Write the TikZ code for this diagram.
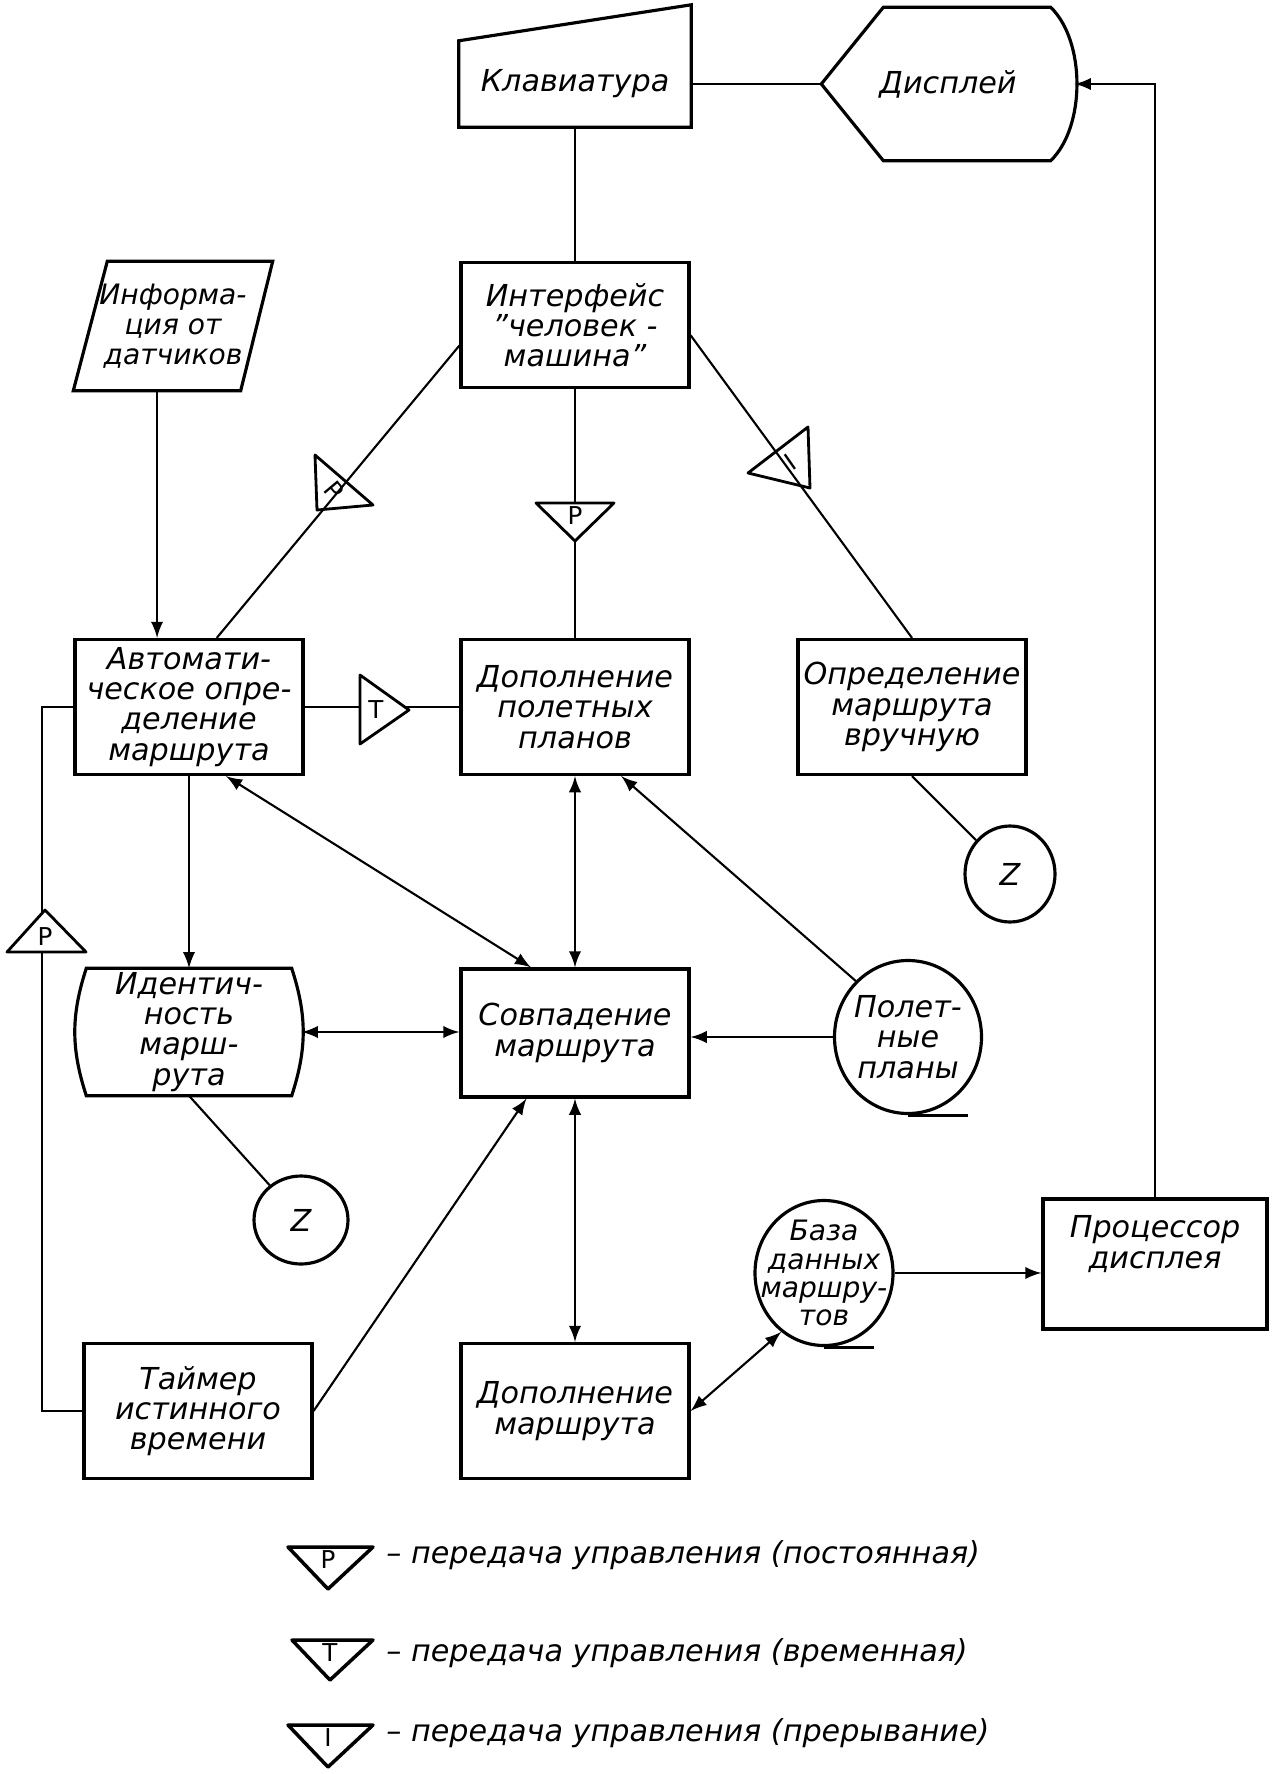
\documentclass[tikz,border=0pt]{standalone}
\usepackage{fontspec}
\setmainfont{DejaVu Sans}[Ligatures=ResetAll]
\usetikzlibrary{calc,shapes.geometric}

\begin{document}
\begin{tikzpicture}[x=0.1mm, y=-0.1mm, >=latex,
    every node/.style={font=\itshape\fontsize{8.6}{8.6}\selectfont, align=center},
    block/.style={draw, line width=0.9pt, minimum width=22.8mm, minimum height=13.5mm, inner sep=1pt},
    plain/.style={minimum width=22.8mm, minimum height=13.5mm, inner sep=1pt},
    store/.style={draw, ellipse, line width=0.9pt, inner sep=0pt},
    link/.style={line width=0.6pt},
    trimark/.style={line width=0.8pt, line join=round},
    letter/.style={font=\fontsize{7}{7}\selectfont, inner sep=0pt}]

        % Fix the page
        \useasboundingbox (0,0) rectangle (1284,1774);

        % Draw keyboard and display
        \node[plain, minimum width=23.1mm, minimum height=8.5mm] (kbd) at (575,84) {Клавиатура};
        \draw[line width=0.9pt] (kbd.south west) -- (kbd.north west) -- ($(kbd.north east)+(0,-36)$) -- (kbd.south east) -- cycle;
        \node[plain, minimum width=25.2mm, minimum height=15.2mm] (disp) at (948,84) {Дисплей};
        \draw[line width=0.9pt] (disp.west) -- ($(disp.north west)+(62,0)$) -- ($(disp.north east)+(-24,0)$)
            .. controls +(35,34) and +(35,-34) .. ($(disp.south east)+(-24,0)$) -- ($(disp.south west)+(62,0)$) -- cycle;

        % Draw the second row
        \node[plain, minimum width=19.8mm, minimum height=12.8mm, font=\itshape\fontsize{8}{8.6}\selectfont] (info) at (173,326) {Информа-\\ция от\\датчиков};
        \draw[line width=0.9pt] (info.south west) -- ($(info.north west)+(34,0)$) -- (info.north east) -- ($(info.south east)+(-32,0)$) -- cycle;
        \coordinate (infoout) at ($(info.south west)!0.42!(info.south east)$);
        \node[block, minimum height=12.5mm] (intf) at (575,325) {Интерфейс\\"человек -\\машина"};

        % Draw the third row
        \node[block] (auto) at (189,707) {Автомати-\\ческое опре-\\деление\\маршрута};
        \node[block] (dop) at (575,707) {Дополнение\\полетных\\планов};
        \node[block] (opr) at (912,707) {Определение\\маршрута\\вручную};
        \node[store, minimum width=9mm, minimum height=9.6mm] (zopr) at (1010,874) {Z};

        % Draw the fourth row
        \node[plain, minimum width=20.4mm, minimum height=12.6mm] (ident) at (189,1032) {Идентич-\\ность\\марш-\\рута};
        \draw[line width=0.9pt] (ident.north west) to[bend right=18] (ident.south west) -- (ident.south east)
            to[bend right=18] (ident.north east) -- cycle;
        \coordinate (identE) at ($(ident.east)+(10,0)$);
        \node[block, minimum height=12.8mm] (sovp) at (575,1033) {Совпадение\\маршрута};
        \node[store, minimum width=14.7mm, minimum height=15.3mm, label=center:{Полет-\\ные\\планы}] (pp) at (908,1037) {};
        \draw[line width=0.9pt] (pp.south) -- ++(60,0);
        \node[store, minimum width=9.4mm, minimum height=8.8mm] (zid) at (301,1220) {Z};

        % Draw the bottom row
        \node[block] (taim) at (198,1411) {Таймер\\истинного\\времени};
        \node[block] (dopm) at (575,1411) {Дополнение\\маршрута};
        \node[store, minimum width=13.8mm, minimum height=14.5mm,
            label={[font=\itshape\fontsize{8}{8}\selectfont]center:{База\\данных\\маршру-\\тов}}] (baza) at (824,1273) {};
        \draw[line width=0.9pt] (baza.south) -- ++(50,0);
        \node[block, minimum width=22.4mm, minimum height=13mm] (proc) at (1155,1264) {Процессор\\дисплея\\[4pt]};

        % Connectors
        \draw[link] (kbd.east) -- (kbd.east -| disp.west);
        \draw[link] (kbd.south) -- (intf.north);
        \draw[link] (intf.south) -- (dop.north);
        \draw[link] ($(intf.north west)!0.66!(intf.south west)$) -- ($(auto.north west)!0.62!(auto.north east)$);
        \draw[link] ($(intf.north east)!0.58!(intf.south east)$) -- (opr.north);
        \draw[link, ->] (infoout) -- (infoout |- auto.north);
        \draw[link] (auto.east) -- (dop.west);
        \draw[link] (auto.west) -- ++(-31,0) |- (taim.west);
        \draw[link] (opr.south) -- (zopr);
        \draw[link, ->] (auto.south) -- (ident.north);
        \draw[link, <->] ($(auto.south west)!0.66!(auto.south east)$) -- ($(sovp.north west)!0.31!(sovp.north east)$);
        \draw[link, <->] (dop.south) -- (sovp.north);
        \draw[link, ->] (pp.133) -- ($(dop.south west)!0.7!(dop.south east)$);
        \draw[link, <->] (identE) -- (identE -| sovp.west);
        \draw[link, ->] (pp.west) -- (pp.west -| sovp.east);
        \draw[link] (ident.south) -- (zid);
        \draw[link, ->] (taim.east) -- ($(sovp.south west)!0.29!(sovp.south east)$);
        \draw[link, <->] (sovp.south) -- (dopm.north);
        \draw[link, <->] (dopm.east) -- (baza.234);
        \draw[link, ->] (baza.east) -- (baza.east -| proc.west);
        \draw[link, ->] (proc.north) |- (disp.east);

        % Control transfer marks on the lines
        \draw[trimark, fill=white] (536,503) -- (614,503) -- (575,541) -- cycle;
        \node[letter] (tpmid) at (575,516) {P};
        \draw[trimark, fill=white] (360,675) -- (409,710) -- (360,744) -- cycle;
        \node[letter] (ttmp) at (376,710) {T};
        \draw[trimark, fill=white] (45,910) -- (86,952) -- (7,952) -- cycle;
        \node[letter] (tpleft) at (45,937) {P};
        \draw[trimark] (315,455) -- (317,510) -- (373,505) -- cycle;
        \node[letter, rotate=-50] (tpdiag) at (334,490) {P};
        \draw[trimark] (808,427) -- (748,473) -- (810,488) -- cycle;
        \node[letter, rotate=35] (tidiag) at (790,462) {I};

        % Legend
        \draw[trimark, line width=1pt] (288,1547) -- (373,1547) -- (328,1589) -- cycle;
        \node[letter] (legp) at (328,1560) {P};
        \node[anchor=west] (legtxtp) at (374,1555) {– передача управления (постоянная)};
        \draw[trimark, line width=1pt] (292,1640) -- (373,1640) -- (330,1680) -- cycle;
        \node[letter] (legt) at (330,1653) {T};
        \node[anchor=west] (legtxtt) at (374,1653) {– передача управления (временная)};
        \draw[trimark, line width=1pt] (288,1725) -- (373,1725) -- (328,1767) -- cycle;
        \node[letter] (legi) at (328,1738) {I};
        \node[anchor=west] (legtxti) at (374,1733) {– передача управления (прерывание)};

\end{tikzpicture}
\end{document}
